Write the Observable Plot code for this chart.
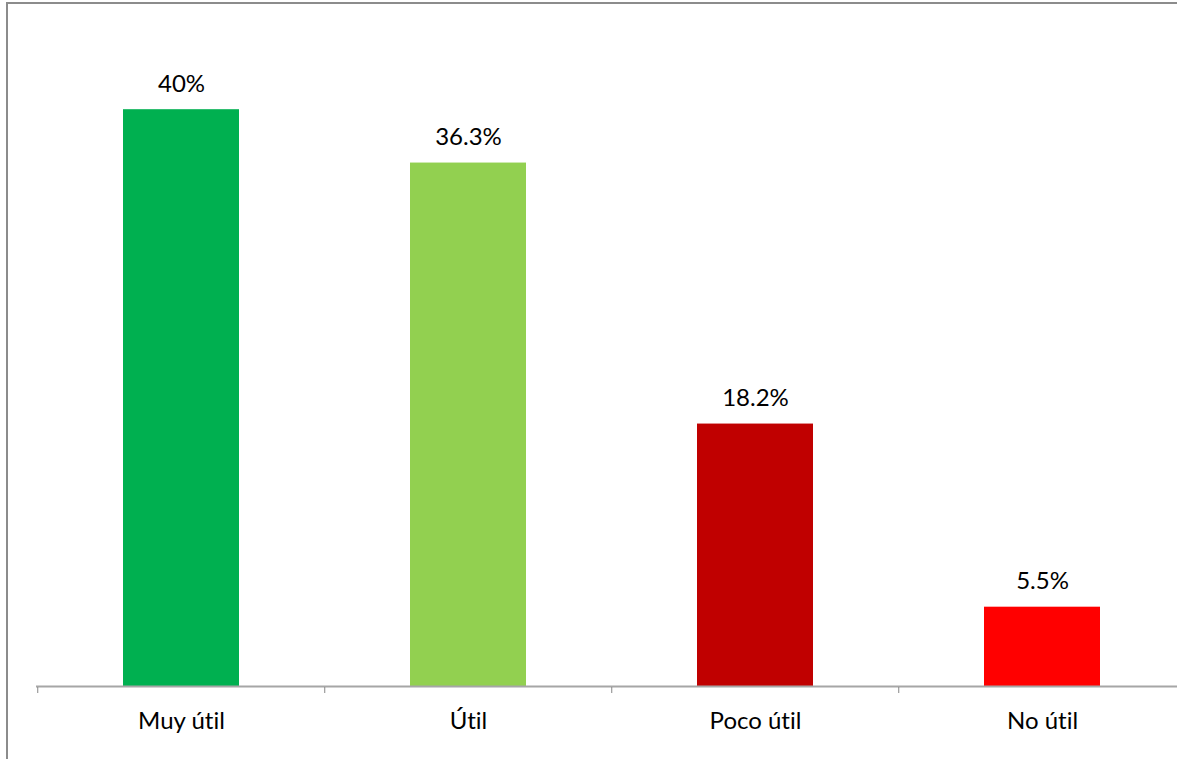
<!DOCTYPE html>
<html>
<head>
<meta charset="utf-8">
<script src="https://cdn.jsdelivr.net/npm/d3@7"></script>
<script src="https://cdn.jsdelivr.net/npm/@observablehq/plot@0.6"></script>
<style>
  html, body { margin: 0; padding: 0; background: #fff; overflow: hidden; width: 1177px; height: 759px; }
  #frame { position: absolute; left: 6px; top: 2px; width: 1300px; height: 900px;
           border-left: 2px solid #8c8c8c; border-top: 2px solid #8c8c8c; }
  #chart { position: absolute; left: 0; top: 0; width: 1200px; height: 759px; }
  #chart svg { font-family: Lato, "Noto Sans", sans-serif; max-width: none !important; width: 1200px !important; height: 759px !important;
               font-variant-ligatures: none; }
</style>
</head>
<body>
<div id="frame"></div>
<div id="chart"></div>
<script>
const categories = ["Muy útil", "Útil", "Poco útil", "No útil"];
const values = [40, 36.3, 18.2, 5.5];
const valueLabels = ["40%", "36.3%", "18.2%", "5.5%"];
const colors = ["#00B050", "#92D050", "#C00000", "#FF0000"];

const data = categories.map((c, i) => ({category: c, value: values[i], label: valueLabels[i], color: colors[i]}));

const baseY = 686;
const pxPerUnit = 14.42;
const step = 1150 / 4;

const chart = Plot.plot({
  width: 1200,
  height: 759,
  marginLeft: 36,
  marginRight: 14,
  marginTop: 20,
  marginBottom: 73,
  x: {domain: categories, paddingInner: 0.597, paddingOuter: 0.2985, align: 0.5, axis: null},
  y: {domain: [0, 40], range: [baseY, baseY - 40 * pxPerUnit], axis: null},
  marks: [
    Plot.barY(data, {x: "category", y: "value", fill: "color"}),
    Plot.ruleY([0], {stroke: "#a6a6a6", strokeWidth: 2}),
    Plot.ruleX(data, {x: "category", y1: 0, y2: 0, insetTop: 1, insetBottom: -7, dx: -step / 2, stroke: "#868686", strokeWidth: 1}),
    Plot.text(data, {x: "category", y: "value", text: "label", lineAnchor: "bottom", dy: -18, fontSize: 24, fill: "#000"}),
    Plot.axisX({tickSize: 0, tickPadding: 25, fontSize: 24, fill: "#000", label: null})
  ]
});
document.getElementById("chart").appendChild(chart);
</script>
</body>
</html>
